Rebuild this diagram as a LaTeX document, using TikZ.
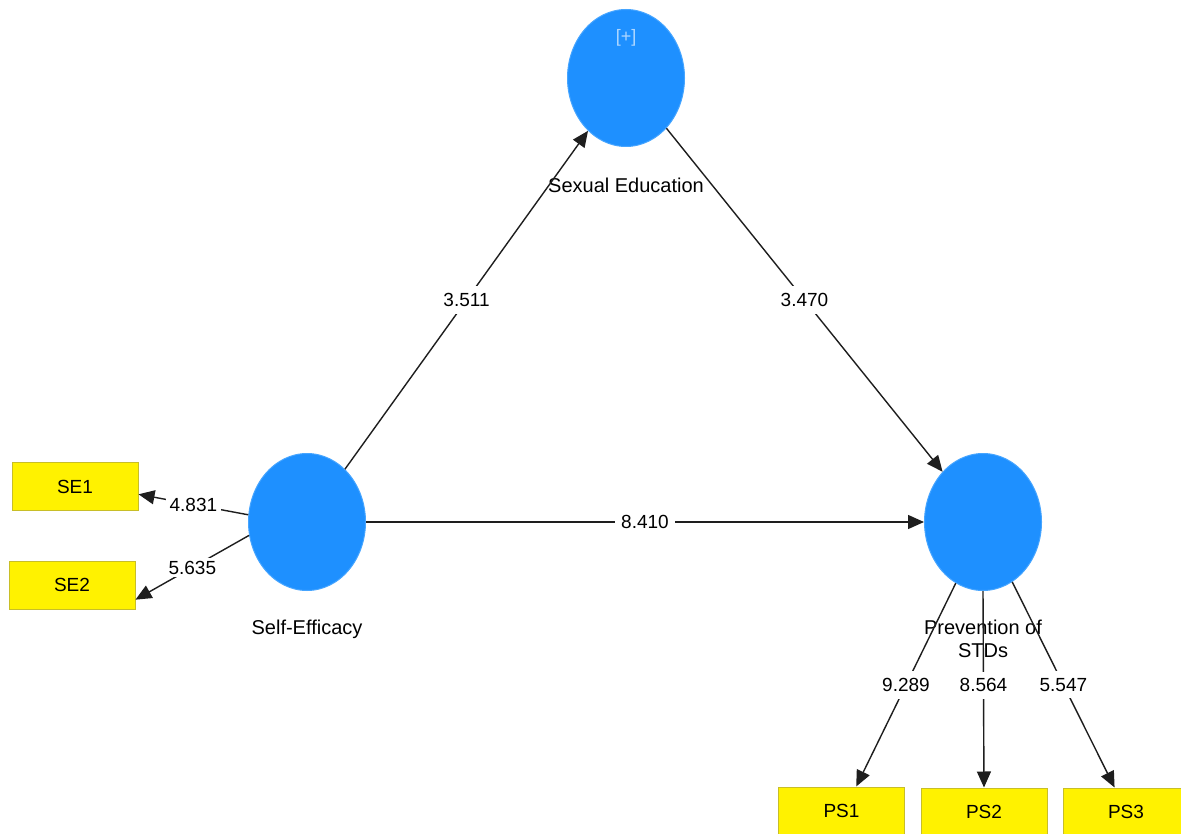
\documentclass[tikz,border=0pt]{standalone}
\usepackage{fontspec}
\setmainfont{Liberation Sans}
\usetikzlibrary{shapes.geometric,arrows.meta}
\definecolor{lvblue}{RGB}{30,144,255}
\definecolor{lvedge}{RGB}{70,165,255}
\definecolor{ybord}{RGB}{200,190,40}
\definecolor{plusblue}{RGB}{175,215,255}
\definecolor{linegray}{RGB}{30,30,30}
\begin{document}
\begin{tikzpicture}[x=1pt,y=-1pt,
  latent/.style={ellipse, fill=lvblue, draw=lvedge, line width=1pt, minimum width=117pt, minimum height=137pt, inner sep=0pt},
  indicator/.style={rectangle, fill=yellow, draw=ybord, line width=1pt, minimum width=126pt, minimum height=48pt, inner sep=0pt, font=\fontsize{19}{22}\selectfont},
  relpath/.style={draw=linegray, line width=1.4pt, -{Triangle[length=16pt,width=14pt]}},
  coef/.style={fill=white, inner xsep=6pt, inner ysep=7pt, font=\fontsize{19}{22}\selectfont},
  lvname/.style={font=\fontsize{20}{23}\selectfont, align=center, inner sep=0pt}]
\useasboundingbox (0,0) rectangle (1181,834);
\clip (0,0) rectangle (1181,834);
\fill[white] (0,0) rectangle (1181,834);
% latent variables
\node[latent] (sed) at (626,78) {};
\node[latent] (se) at (307,522) {};
\node[latent] (pp) at (983,522) {};
% indicators
\node[indicator] (se1) at (75,486.5) {SE1};
\node[indicator] (se2) at (72,585) {SE2};
\node[indicator] (ps1) at (841.5,811) {PS1};
\node[indicator] (ps2) at (984,812) {PS2};
\node[indicator] (ps3) at (1126,812) {PS3};
% names
\node[text=plusblue, font=\fontsize{18}{20}\selectfont] (plus) at (626,38) {[+]};
\node[lvname] (sedl) at (626,185) {Sexual Education};
\node[lvname] (sel) at (307,629) {Self-Efficacy};
\node[lvname] (ppl) at (983,639) {Prevention of\\STDs};
% paths
\draw[relpath] (se) -- node[coef]{3.511} (sed);
\draw[relpath] (sed) -- node[coef]{3.470} (pp);
\draw[relpath] (se) -- node[coef]{8.410} (pp);
\draw[relpath] (se.173) -- node[coef, inner xsep=4pt, inner ysep=3pt]{4.831} (se1.-7);
\draw[relpath] (se.193) -- node[coef, inner xsep=4pt, inner ysep=3pt]{5.635} (se2.-13);
\draw[relpath] (pp.-114) -- node[coef, pos=0.5]{9.289} (ps1.59);
\draw[relpath] (pp.south) -- node[coef, pos=0.48]{8.564} (ps2.north);
\draw[relpath] (pp.-64) -- node[coef, pos=0.5]{5.547} (ps3.115);
\end{tikzpicture}
\end{document}
